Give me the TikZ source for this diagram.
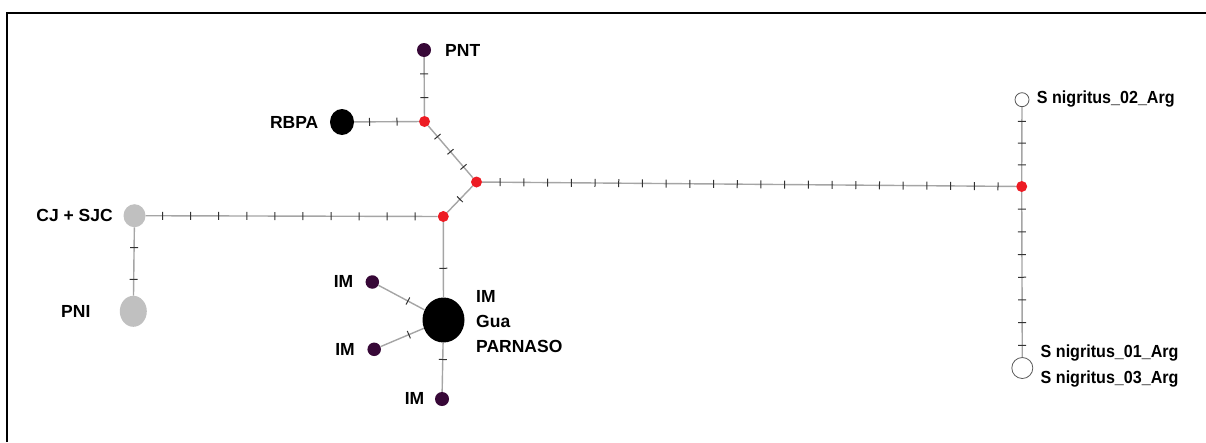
\documentclass[tikz,border=0pt]{standalone}
\usepackage{fontspec}
\setmainfont{Liberation Sans}
\usetikzlibrary{calc,shapes.geometric}
\definecolor{hapurple}{RGB}{55,8,55}
\definecolor{hagray}{RGB}{192,192,192}
\definecolor{hared}{RGB}{237,28,36}
\definecolor{edgegray}{RGB}{165,165,165}
\tikzset{
  hap/.style={circle,inner sep=0pt,draw=none},
  purplenode/.style={hap,fill=hapurple,minimum size=14},
  mednode/.style={hap,fill=hared,minimum size=11},
  blacknode/.style={ellipse,inner sep=0pt,fill=black},
  graynode/.style={ellipse,inner sep=0pt,fill=hagray},
  whitenode/.style={hap,fill=white,draw=black!65,line width=0.8},
  lbl/.style={inner sep=0pt,font=\bfseries\fontsize{17.5}{21}\selectfont},
  edgeline/.style={draw=edgegray,line width=1.4},
  tickline/.style={draw=black!80,line width=1},
}
\newcommand\mutedge[3]{%
  \draw[edgeline] (#1) -- (#2);
  \foreach \k in {1,...,#3}{%
    \pgfmathsetmacro\fr{\k/(#3+1)}%
    \coordinate (tmp) at ($(#1.center)!\fr!(#2.center)$);
    \draw[tickline] ($(tmp)!4pt!90:(#2.center)$) -- ($(tmp)!4pt!-90:(#2.center)$);
  }}
\newcommand\narrow[1]{\scalebox{0.92}[1]{#1}}
\begin{document}
\begin{tikzpicture}[x=1pt,y=-1pt]
\useasboundingbox (0,0) rectangle (1206,442);
\draw[line width=2] (7,442) -- (7,13) -- (1206,13);
% nodes
\node[purplenode] (pnt) at (424,50) {};
\node[mednode] (ra) at (424.5,121.5) {};
\node[blacknode,minimum width=24,minimum height=26] (rbpa) at (342,122) {};
\node[mednode] (rb) at (476.5,182) {};
\node[mednode] (rc) at (443.3,216.5) {};
\node[graynode,minimum width=22,minimum height=23] (cj) at (134.5,215.7) {};
\node[graynode,minimum width=27,minimum height=31] (pni) at (133.3,311.3) {};
\node[blacknode,minimum width=42,minimum height=45] (big) at (443.5,320) {};
\node[purplenode,minimum size=13.5] (im1) at (372.3,282) {};
\node[purplenode,minimum size=13.5] (im2) at (374.2,349.3) {};
\node[purplenode,minimum size=14] (im3) at (442,399) {};
\node[mednode] (rd) at (1021.7,186.5) {};
\node[whitenode,minimum size=14] (s2) at (1022,99.7) {};
\node[whitenode,minimum size=21] (s1) at (1022.3,368) {};
% edges with mutation ticks
\mutedge{ra}{pnt}{2}
\mutedge{ra}{rbpa}{2}
\mutedge{ra}{rb}{3}
\mutedge{rb}{rc}{1}
\mutedge{rc}{cj}{10}
\mutedge{cj}{pni}{2}
\mutedge{rc}{big}{1}
\mutedge{big}{im1}{1}
\mutedge{big}{im2}{1}
\mutedge{big}{im3}{1}
\mutedge{rb}{rd}{22}
\mutedge{rd}{s2}{3}
\mutedge{rd}{s1}{7}
% labels
\node[lbl,anchor=west] (lpnt) at (445,50) {PNT};
\node[lbl,anchor=east] (lrbpa) at (318.5,122) {RBPA};
\node[lbl,anchor=east] (lcj) at (113,215.5) {CJ + SJC};
\node[lbl] (lpni) at (75.8,311) {PNI};
\node[lbl,anchor=east] (lim1) at (353.5,281) {IM};
\node[lbl,anchor=east] (lim2) at (355,349.5) {IM};
\node[lbl,anchor=east] (lim3) at (424.5,398) {IM};
\node[lbl,anchor=west] (lbig1) at (476,296.5) {IM};
\node[lbl,anchor=west] (lbig2) at (476,321.5) {Gua};
\node[lbl,anchor=west] (lbig3) at (476,346.5) {PARNASO};
\node[lbl,anchor=west] (ls2) at (1036.7,99.5) {\narrow{S nigritus\_02\_Arg}};
\node[lbl,anchor=west] (ls1) at (1040.5,353) {\narrow{S nigritus\_01\_Arg}};
\node[lbl,anchor=west] (ls3) at (1040.5,379.5) {\narrow{S nigritus\_03\_Arg}};
\end{tikzpicture}
\end{document}
